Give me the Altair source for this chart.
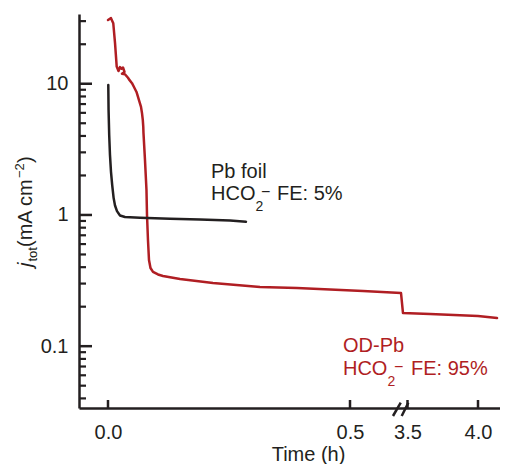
import altair as alt
import pandas as pd

# ---------------- data ----------------
od_time_h = [0.000, 0.0062, 0.0109, 0.0145, 0.0180, 0.0217, 0.0248, 0.0279, 0.0310, 0.0341,
             0.0289, 0.0351, 0.0413, 0.0434, 0.0496, 0.0537, 0.0589, 0.0620, 0.0651, 0.0682,
             0.0702, 0.0719, 0.0729, 0.0733, 0.0764, 0.0795, 0.0806,
             0.0826, 0.0847, 0.0878, 0.0930, 0.1033, 0.1136, 0.1488, 0.2169, 0.3140, 0.3905,
             0.5269, 0.6054, 3.468, 3.660, 4.000, 4.135]
od_j = [30.6, 31.6, 28.9, 20.5, 13.5, 12.5, 13.4, 13.0, 13.3, 12.3,
        11.9, 11.8, 11.1, 10.8, 10.1, 9.45, 8.66, 7.93, 7.27, 6.66,
        5.99, 5.30, 4.69, 4.22, 2.63, 1.55, 1.00,
        0.645, 0.454, 0.394, 0.368, 0.352, 0.343, 0.325, 0.303, 0.283, 0.278,
        0.263, 0.254, 0.179, 0.176, 0.170, 0.164]

foil_time_h = [0.0006, 0.0012, 0.0025, 0.0041, 0.0062, 0.0087, 0.0116, 0.0145, 0.0186,
               0.0248, 0.0351, 0.0661, 0.1281, 0.1901, 0.2521, 0.2851]
foil_j = [9.79, 6.31, 4.07, 2.87, 2.13, 1.69, 1.35, 1.18, 1.07,
          0.991, 0.966, 0.954, 0.937, 0.923, 0.906, 0.889]

y_major = [0.1, 1, 10]
y_minor = [0.04, 0.05, 0.06, 0.07, 0.08, 0.09,
           0.2, 0.3, 0.4, 0.5, 0.6, 0.7, 0.8, 0.9,
           2, 3, 4, 5, 6, 7, 8, 9, 20, 30]
x_tick_hours = [0.0, 0.5, 3.5, 4.0]

# broken axis: hours before the break map 1:1, after the break compressed
BREAK_AT = 2.0
U35 = 0.6188
K = 0.2913


def to_u(h):
    return h if h < BREAK_AT else U35 + (h - 3.5) * K


# annotation anchors (hours, current density)
foil_label_pos = (0.2128, 1.914)
foil_fe_pos = (0.2128, 1.301)
od_label_pos = (0.4855, 0.0903)
od_fe_pos = (0.4855, 0.0603)

# break marks (axis units)
break_x1 = [0.5888, 0.6068]
break_x2 = [0.6048, 0.6205]

# ---------------- styling ----------------
FONT = "Liberation Sans"
INK = "#231f20"
RED = "#b01e23"
W, H = 421, 394

xscale = alt.Scale(domain=[-0.0599, 0.8099], nice=False, zero=False)
yscale = alt.Scale(type="log", domain=[0.0338, 34.0], nice=False)

label_expr = (f"datum.value < 0.58 ? format(datum.value, '.1f') : "
              f"format(3.5 + (datum.value - {U35}) / {K}, '.1f')")

xaxis = alt.Axis(values=[to_u(h) for h in x_tick_hours], labelExpr=label_expr,
                 ticks=False, grid=False, domainWidth=2.5, domainColor=INK,
                 labelFont=FONT, labelFontSize=20, labelColor=INK,
                 labelPadding=30, labelBaseline="alphabetic", labelFlush=False,
                 labelOverlap=False,
                 title="Time (h)", titleFont=FONT, titleFontSize=20,
                 titleFontWeight="normal", titleColor=INK, titleX=229, titleY=52,
                 titleAlign="center", titleBaseline="alphabetic")
yaxis = alt.Axis(values=y_major, format="~g", ticks=False, grid=False,
                 domainWidth=2.5, domainColor=INK, labelFont=FONT,
                 labelFontSize=20, labelColor=INK, labelPadding=11,
                 labelOverlap=False, title=None)

rows = []
for i, (t, j) in enumerate(zip(od_time_h, od_j)):
    rows.append({"t": t, "j": j, "series": "OD-Pb", "i": i})
for i, (t, j) in enumerate(zip(foil_time_h, foil_j)):
    rows.append({"t": t, "j": j, "series": "Pb foil", "i": i})
df = pd.DataFrame(rows)

lines = alt.Chart(df).transform_calculate(
    u=f"datum.t < {BREAK_AT} ? datum.t : {U35} + (datum.t - 3.5) * {K}"
).mark_line(strokeWidth=2.5, strokeJoin="round", strokeCap="round").encode(
    x=alt.X("u:Q", scale=xscale, axis=xaxis),
    y=alt.Y("j:Q", scale=yscale, axis=yaxis),
    color=alt.Color("series:N", scale=alt.Scale(domain=["OD-Pb", "Pb foil"],
                                                range=[RED, INK]), legend=None),
    detail="series:N",
    order="i:Q",
)

major_ticks = alt.Chart(pd.DataFrame({"v": y_major})).mark_rule(
    color=INK, strokeWidth=2.5).encode(
    y=alt.Y("v:Q", scale=yscale, axis=yaxis), x=alt.value(0), x2=alt.value(13))
minor_ticks = alt.Chart(pd.DataFrame({"v": y_minor})).mark_rule(
    color=INK, strokeWidth=2.2).encode(
    y=alt.Y("v:Q", scale=yscale, axis=yaxis), x=alt.value(0), x2=alt.value(7))
x_ticks = alt.Chart(pd.DataFrame({"u": [to_u(h) for h in x_tick_hours]})).mark_rule(
    color=INK, strokeWidth=2.5).encode(
    x=alt.X("u:Q", scale=xscale, axis=xaxis), y=alt.value(H), y2=alt.value(H - 8))

breaks = alt.Chart(pd.DataFrame({"a": break_x1, "b": break_x2})).mark_rule(
    color=INK, strokeWidth=2.5).encode(
    x=alt.X("a:Q", scale=xscale, axis=xaxis), x2="b:Q",
    y=alt.value(H + 8), y2=alt.value(H - 5.3))


def txt(pos, text, color, size=20, dx=0, dy=0):
    d = pd.DataFrame({"u": [pos[0]], "j": [pos[1]]})
    return alt.Chart(d).mark_text(text=text, font=FONT, fontSize=size, color=color,
                                  align="left", baseline="alphabetic", dx=dx, dy=dy).encode(
        x=alt.X("u:Q", scale=xscale, axis=xaxis),
        y=alt.Y("j:Q", scale=yscale, axis=yaxis))


annotations = [
    txt(foil_label_pos, "Pb foil", INK),
    txt(foil_fe_pos, "HCO", INK),
    txt(foil_fe_pos, "2", INK, size=14, dx=44.5, dy=11),
    txt(foil_fe_pos, "\u2212", INK, size=16, dx=50, dy=-3),
    txt(foil_fe_pos, "FE: 5%", INK, dx=66),
    txt(od_label_pos, "OD-Pb", RED),
    txt(od_fe_pos, "HCO", RED),
    txt(od_fe_pos, "2", RED, size=14, dx=44.5, dy=11),
    txt(od_fe_pos, "\u2212", RED, size=16, dx=51, dy=-3),
    txt(od_fe_pos, "FE: 95%", RED, dx=68),
]

# y-axis title built from pieces (italic j, subscript tot, superscript -2)
one = pd.DataFrame({"k": [0]})


def ytitle(text, dx, dy=0, size=20, style="normal"):
    return alt.Chart(one).mark_text(text=text, font=FONT, fontSize=size, color=INK,
                                    fontStyle=style, angle=270, align="left",
                                    baseline="alphabetic", dx=dx, dy=dy).encode(
        x=alt.value(-47), y=alt.value(253))


ytitle_parts = [
    ytitle("j", 0, style="italic"),
    ytitle("tot", 5.5, dy=5, size=13),
    ytitle("(mA cm", 20),
    ytitle("\u22122", 89, dy=-8, size=13),
    ytitle(")", 104),
]

chart = alt.layer(lines, major_ticks, minor_ticks, x_ticks, breaks,
                  *annotations, *ytitle_parts).properties(
    width=W, height=H,
    padding={"left": 71, "top": 6, "right": 0, "bottom": 56},
    autosize=alt.AutoSizeParams(type="none"),
).configure_view(stroke=None)

chart.save("out.html", embed_options={"renderer": "svg", "actions": False})
